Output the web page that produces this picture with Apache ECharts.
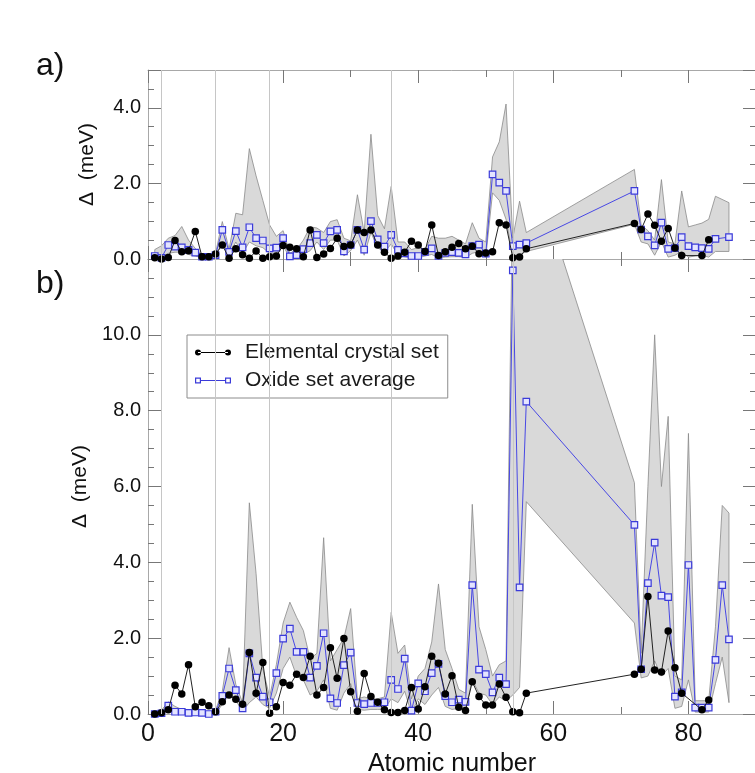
<!DOCTYPE html>
<html><head><meta charset="utf-8">
<script src="https://cdn.jsdelivr.net/npm/echarts@6/dist/echarts.min.js"></script>
<style>html,body{margin:0;padding:0;background:#fff}#c{width:755px;height:773px}</style>
</head><body><div id="c"></div><script>
// Atomic numbers shown (lanthanides omitted)
const Z = [1,2,3,4,5,6,7,8,9,10,11,12,13,14,15,16,17,18,19,20,21,22,23,24,25,26,27,28,29,30,
  31,32,33,34,35,36,37,38,39,40,41,42,43,44,45,46,47,48,49,50,51,52,53,54,55,56,
  72,73,74,75,76,77,78,79,80,81,82,83,84,85,86];

// Panel a)
const aElem = [0.03,0.00,0.04,0.49,0.19,0.22,0.73,0.06,0.06,0.13, 0.37,0.02,0.27,0.11,0.02,0.21,0.02,0.06,0.08,0.36,
  0.31,0.27,0.06,0.77,0.04,0.13,0.28,0.55,0.33,0.37, 0.77,0.70,0.77,0.37,0.18,0.02,0.08,0.18,0.47,0.37,
  0.20,0.90,0.09,0.19,0.31,0.41,0.27,0.34,0.14,0.16, 0.19,0.96,0.90,0.03,0.05,0.27,
  0.94,0.78,1.19,0.89,0.47,0.81,0.29,0.09,null,null,0.09,0.51,null,null,null];
const aOxide = [0.08,0.03,0.37,0.33,0.31,0.24,0.17,0.06,0.06,0.10, 0.77,0.19,0.74,0.31,0.84,0.55,0.49,0.28,0.30,0.55,
  0.07,0.10,0.26,0.42,0.64,0.42,0.73,0.77,0.20,0.37, 0.77,0.25,1.00,0.52,0.33,0.64,0.24,0.15,0.08,0.08,
  0.19,0.28,0.08,0.16,0.18,0.16,0.12,0.34,0.38,0.14, 2.24,2.02,1.80,0.34,0.38,0.42,
  1.80,0.78,0.60,0.36,0.96,0.27,0.29,0.58,0.34,0.31,0.29,0.27,0.53,null,0.58];
const aLo = [0.03,0.05,0.15,0.18,0.18,0.12,0.08,0.03,0.03,0.05, 0.45,0.10,0.45,0.15,0.45,0.35,0.30,0.15,0.15,0.35,
  0.03,0.05,0.12,0.22,0.45,0.25,0.50,0.50,0.08,0.22, 0.50,0.10,0.70,0.30,0.18,0.40,0.10,0.06,0.03,0.03,
  0.08,0.12,0.03,0.05,0.06,0.06,0.04,0.15,0.20,0.05, 1.75,1.55,1.05,0.08,0.10,0.20,
  0.92,0.45,0.40,0.10,0.45,0.05,0.10,0.20,0.05,0.08,0.10,0.05,0.20,null,0.20];
const aHi = [0.25,0.35,0.55,0.62,0.86,0.50,0.28,0.12,0.12,0.15, 0.99,0.26,1.21,1.17,2.92,2.20,1.55,0.90,0.60,0.75,
  0.15,0.25,0.50,0.85,0.82,0.70,0.99,1.04,0.55,0.48, 1.70,0.70,3.30,1.15,0.80,1.92,0.45,0.45,0.25,0.30,
  0.25,0.60,0.55,0.55,0.60,0.50,0.40,0.96,0.55,0.45, 2.70,3.10,4.10,0.55,1.53,0.70,
  2.37,0.90,0.75,0.50,2.10,0.45,0.40,1.80,0.85,0.90,0.95,1.05,1.66,null,1.49];

// Panel b)
const bElem = [0.00,0.03,0.11,0.76,0.53,1.30,0.19,0.31,0.22,0.06, 0.32,0.50,0.39,0.26,1.62,0.55,1.36,0.02,0.19,0.83,
  0.76,1.05,0.96,1.52,0.50,0.70,1.75,0.94,1.99,0.59, 0.07,1.07,0.46,0.31,0.11,0.04,0.04,0.09,0.70,0.13,
  0.72,1.52,1.34,0.53,1.01,0.18,0.09,0.85,0.46,0.24, 0.24,0.79,0.44,0.06,0.03,0.55,
  1.05,1.18,3.10,1.16,1.11,2.19,1.22,0.55,null,null,0.11,0.37,null,null,null];
const bOxide = [0.00,0.02,0.22,0.06,0.06,0.03,0.04,0.03,0.00,0.06, 0.48,1.20,0.63,0.15,1.60,0.96,0.46,0.31,1.08,1.99,
  2.25,1.64,1.64,0.96,1.27,2.13,0.41,0.29,1.29,1.62, 0.29,0.26,0.29,0.29,0.31,0.90,0.66,1.46,0.09,0.81,
  0.60,1.08,1.32,0.47,0.31,0.38,0.32,3.40,1.17,1.05, 0.57,0.96,0.79,11.7,3.34,8.24,
  4.99,1.18,3.45,4.52,3.12,3.08,0.46,0.57,3.93,0.17,0.17,0.17,1.43,3.40,1.97];
const bLo = [0.00,0.00,0.12,0.02,0.02,0.00,0.01,0.00,0.00,0.02, 0.25,0.55,0.35,0.08,0.30,0.45,0.25,0.15,0.55,1.20,
  1.50,1.00,0.90,0.50,0.60,0.90,0.15,0.10,0.55,0.80, 0.12,0.10,0.12,0.12,0.12,0.40,0.30,0.60,0.02,0.40,
  0.25,0.50,0.70,0.20,0.12,0.15,0.12,0.90,0.55,0.50, 0.25,0.45,0.35,0.50,0.70,5.60,
  2.40,0.95,1.00,1.40,1.00,1.20,0.15,0.20,0.90,0.05,0.05,0.05,0.80,1.50,0.30];
const bHi = [0.05,0.10,0.32,0.20,0.12,0.10,0.10,0.08,0.05,0.10, 0.60,1.75,0.78,0.30,5.57,3.70,1.20,0.45,1.30,2.40,
  2.95,2.55,2.20,1.45,1.60,4.65,1.40,1.70,2.00,2.78, 0.40,0.45,0.40,0.40,0.45,2.68,1.60,1.82,0.40,1.00,
  1.20,1.90,3.43,1.70,1.20,0.65,0.55,5.53,2.30,1.70, 1.00,1.30,1.40,14.0,14.5,15.0,
  6.10,1.60,6.00,10.0,6.00,7.85,1.00,0.90,7.40,0.35,0.35,0.35,2.30,5.50,5.30];

// noble-gas guide lines
const guideX = [2, 10, 18, 36, 54];

const FONT = '"Liberation Sans", Arial, Helvetica, sans-serif';
const TICK = '#777', FRAME = '#a8a8a8';

function pts(vals){ return Z.map((z,i)=> vals[i]==null ? null : [z, vals[i]]).filter(d=>d); }
function band(lo, hi){ return Z.map((z,i)=> (lo[i]==null||hi[i]==null) ? null : [z, lo[i], hi[i]]).filter(d=>d); }

function xAx(g, pos, interval, len, showLine, label){
  return {type:'value', gridIndex:g, position:pos, min:0, max:90, interval:interval,
    axisLine:{show:showLine, onZero:false, lineStyle:{color:FRAME, width:1}},
    axisTick:{show:true, inside:true, length:len, lineStyle:{color:TICK}},
    axisLabel: label ? {show:true, fontSize:25, fontFamily:FONT, color:'#111', margin:8, showMaxLabel:false,
      formatter: v => (v % 20 === 0 && v < 90) ? String(v) : ''} : {show:false},
    splitLine:{show:false},
    name: label ? 'Atomic number' : '', nameLocation:'middle', nameGap:36,
    nameTextStyle:{fontSize:25, fontFamily:FONT, color:'#111'}};
}
function yAx(g, pos, max, interval, len, showLine, label){
  return {type:'value', gridIndex:g, position:pos, min:0, max:max, interval:interval,
    axisLine:{show:showLine, onZero:false, lineStyle:{color:FRAME, width:1}},
    axisTick:{show:true, inside:true, length:len, lineStyle:{color:TICK}},
    axisLabel: label ? {show:true, fontSize:20, fontFamily:FONT, color:'#111', margin:7,
      formatter: v => (Math.abs(v % 2) < 1e-9 && v < max) ? v.toFixed(1) : ''} : {show:false},
    splitLine:{show:false},
    name: label ? 'Δ  (meV)' : '', nameLocation:'middle', nameGap:50,
    nameTextStyle:{fontSize:21, fontFamily:FONT, color:'#111'}};
}

function bandSeries(xi, yi, data){
  return {type:'custom', xAxisIndex:xi, yAxisIndex:yi, z:1, silent:true, clip:true,
    data: data, encode:{x:0, y:[1,2]},
    renderItem: function(params, api){
      if (params.dataIndex !== 0) return null;
      const top = data.map(d => api.coord([d[0], d[2]]));
      const bot = data.map(d => api.coord([d[0], d[1]])).reverse();
      const cs = params.coordSys;
      return {type:'group',
        clipPath:{type:'rect', shape:{x:cs.x, y:cs.y, width:cs.width, height:cs.height}},
        children:[{type:'polygon', shape:{points: top.concat(bot)},
          style:{fill:'#d9d9d9', stroke:'#8a8a8a', lineWidth:0.8}}]};
    }};
}
function oxideSeries(xi, yi, vals){
  return {name:'Oxide set average', type:'line', xAxisIndex:xi, yAxisIndex:yi, z:3,
    data: pts(vals), symbol:'rect', symbolSize:6.5, showAllSymbol:true,
    itemStyle:{color:'#e4e4ff', borderColor:'#3b3bd9', borderWidth:1.2},
    lineStyle:{color:'#4848e4', width:1}};
}
function elemSeries(xi, yi, vals){
  return {name:'Elemental crystal set', type:'line', xAxisIndex:xi, yAxisIndex:yi, z:4,
    data: pts(vals), symbol:'circle', symbolSize:7.5, showAllSymbol:true,
    itemStyle:{color:'#000'}, lineStyle:{color:'#222', width:1},
    markLine:{silent:true, symbol:['none','none'], label:{show:false}, animation:false,
      lineStyle:{color:'#c6c6c6', width:1, type:'solid'},
      data: guideX.map(x => ({xAxis:x}))}};
}

const ICON_E = 'path://M0,3a3,3 0 1,0 6,0a3,3 0 1,0 -6,0z M30,3a3,3 0 1,0 6,0a3,3 0 1,0 -6,0z M3,2.6h30v0.8h-30z M44.99,3h0.01v0.01h-0.01z';
const ICON_O = 'path://M0,0h6v6h-6z M1.2,1.2v3.6h3.6v-3.6z M30,0h6v6h-6z M31.2,1.2v3.6h3.6v-3.6z M6,2.6h24v0.8h-24z M44.99,3h0.01v0.01h-0.01z';

const chart = echarts.init(document.getElementById('c'), null, {renderer:'canvas'});
chart.setOption({
  animation:false,
  backgroundColor:'#fff',
  textStyle:{fontFamily:FONT},
  grid:[
    {left:148, top:70, width:608, height:189, outerBoundsMode:'none', containLabel:false},
    {left:148, top:259, width:608, height:455, outerBoundsMode:'none', containLabel:false}
  ],
  xAxis:[
    xAx(0,'bottom',20,13,true,false), xAx(0,'bottom',10,7,false,false),
    xAx(0,'top',20,13,true,false),    xAx(0,'top',10,7,false,false),
    xAx(1,'bottom',20,13,true,true),  xAx(1,'bottom',10,7,false,false),
    xAx(1,'top',20,13,true,false),    xAx(1,'top',10,7,false,false)
  ],
  yAxis:[
    yAx(0,'left',5,2,13,true,true),   yAx(0,'left',5,0.5,6,false,false),
    yAx(0,'right',5,2,13,true,false), yAx(0,'right',5,0.5,6,false,false),
    yAx(1,'left',12,2,13,true,true),  yAx(1,'left',12,0.5,6,false,false),
    yAx(1,'right',12,2,13,true,false),yAx(1,'right',12,0.5,6,false,false)
  ],
  legend:{orient:'vertical', left:187, top:335, padding:[7,9,7,8], itemGap:7,
    itemWidth:45, itemHeight:6, backgroundColor:'#fff', borderColor:'#8c8c8c', borderWidth:1,
    selectedMode:false,
    textStyle:{fontSize:21, fontFamily:FONT, color:'#1a1a1a'},
    data:[{name:'Elemental crystal set', icon:ICON_E, itemStyle:{color:'#000', borderWidth:0}},
          {name:'Oxide set average', icon:ICON_O, itemStyle:{color:'#3b3bd9', borderWidth:0}}]},
  graphic:[
    {type:'text', left:36, top:50, style:{text:'a)', fontSize:32, fontFamily:FONT, fill:'#111'}},
    {type:'text', left:36, top:268, style:{text:'b)', fontSize:32, fontFamily:FONT, fill:'#111'}}
  ],
  series:[
    bandSeries(0,0,band(aLo,aHi)), oxideSeries(0,0,aOxide), elemSeries(0,0,aElem),
    bandSeries(4,4,band(bLo,bHi)), oxideSeries(4,4,bOxide), elemSeries(4,4,bElem)
  ]
});
</script></body></html>
